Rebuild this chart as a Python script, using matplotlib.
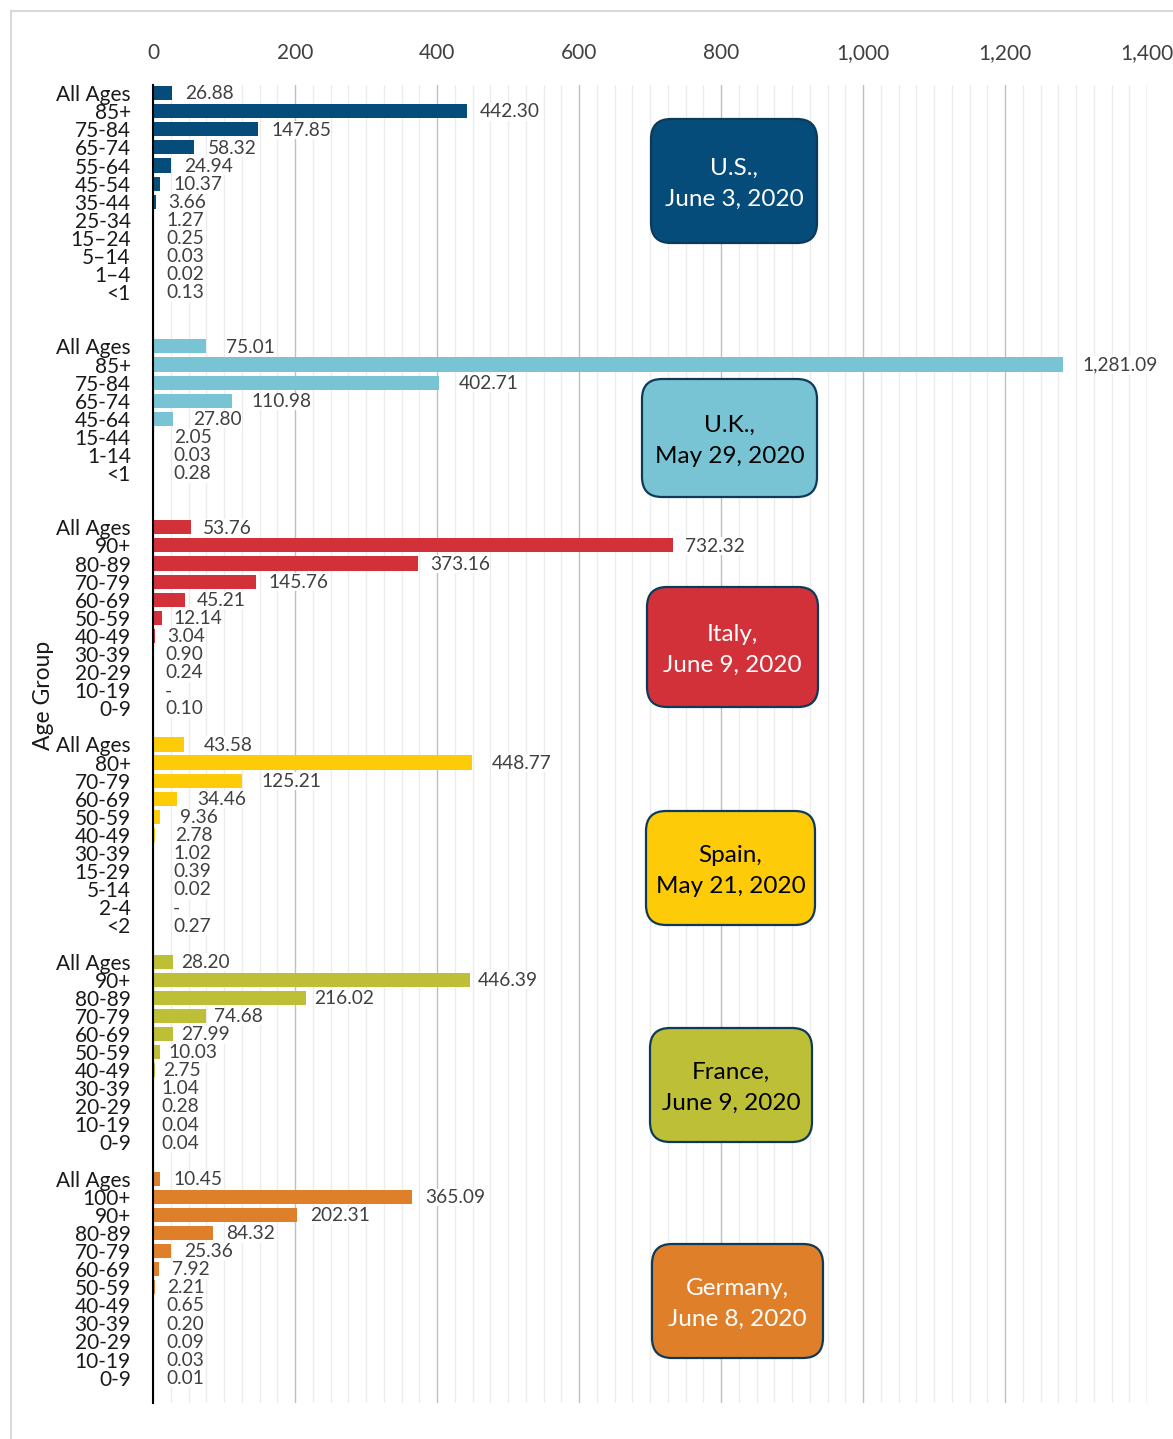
#!/usr/bin/env python3

import matplotlib
matplotlib.use("Agg")
from matplotlib import pyplot as plt
from matplotlib.patches import FancyBboxPatch
from matplotlib.lines import Line2D
from matplotlib.transforms import IdentityTransform
from matplotlib.ticker import MultipleLocator, FuncFormatter

matplotlib.rcParams['font.family'] = ['Lato', 'DejaVu Sans']

# Deaths per 100,000 by age group
us_groups = ["All Ages", "85+", "75-84", "65-74", "55-64", "45-54", "35-44", "25-34", "15–24", "5–14", "1–4", "<1"]
us_vals = [26.88, 442.30, 147.85, 58.32, 24.94, 10.37, 3.66, 1.27, 0.25, 0.03, 0.02, 0.13]

uk_groups = ["All Ages", "85+", "75-84", "65-74", "45-64", "15-44", "1-14", "<1"]
uk_vals = [75.01, 1281.09, 402.71, 110.98, 27.80, 2.05, 0.03, 0.28]

it_groups = ["All Ages", "90+", "80-89", "70-79", "60-69", "50-59", "40-49", "30-39", "20-29", "10-19", "0-9"]
it_vals = [53.76, 732.32, 373.16, 145.76, 45.21, 12.14, 3.04, 0.90, 0.24, 0.0, 0.10]

es_groups = ["All Ages", "80+", "70-79", "60-69", "50-59", "40-49", "30-39", "15-29", "5-14", "2-4", "<2"]
es_vals = [43.58, 448.77, 125.21, 34.46, 9.36, 2.78, 1.02, 0.39, 0.02, 0.0, 0.27]

fr_groups = ["All Ages", "90+", "80-89", "70-79", "60-69", "50-59", "40-49", "30-39", "20-29", "10-19", "0-9"]
fr_vals = [28.20, 446.39, 216.02, 74.68, 27.99, 10.03, 2.75, 1.04, 0.28, 0.04, 0.04]

de_groups = ["All Ages", "100+", "90+", "80-89", "70-79", "60-69", "50-59", "40-49", "30-39", "20-29", "10-19", "0-9"]
de_vals = [10.45, 365.09, 202.31, 84.32, 25.36, 7.92, 2.21, 0.65, 0.20, 0.09, 0.03, 0.01]

countries = ["U.S.,\nJune 3, 2020", "U.K.,\nMay 29, 2020", "Italy,\nJune 9, 2020",
             "Spain,\nMay 21, 2020", "France,\nJune 9, 2020", "Germany,\nJune 8, 2020"]

W, H = 1173, 1439

# styling per panel: bar colour, box text colour, label offset (px), blank rows after, box (x0, y0, x1, y1 px)
styles = [
    ("#054C7A", "white", 13, 2, (651, 119, 817, 243)),
    ("#78C4D4", "black", 20, 2, (642, 379, 817, 497)),
    ("#D3313A", "white", 12, 1, (647, 587, 818, 707)),
    ("#FDCB08", "black", 20, 1, (646, 811, 815, 925)),
    ("#BDBF36", "black", 8, 1, (650, 1028, 812, 1142)),
    ("#E07F29", "white", 13, 0, (652, 1244, 823, 1358)),
]
panels = [(us_groups, us_vals), (uk_groups, uk_vals), (it_groups, it_vals),
          (es_groups, es_vals), (fr_groups, fr_vals), (de_groups, de_vals)]

fig = plt.figure(figsize=(W / 100, H / 100), dpi=100)
ax = fig.add_axes([153 / W, 1 - 1403 / H, (1147 - 153) / W, (1403 - 85) / H])

ticks = []
ticklabels = []
row = 0
for (groups, vals), (color, tcolor, off, gap, box) in zip(panels, styles):
    ys = list(range(row, row + len(groups)))
    ax.barh(ys, vals, height=0.78, color=color, zorder=3)
    for y, v in zip(ys, vals):
        txt = "-" if v == 0 else "{:,.2f}".format(v)
        ax.annotate(txt, (v, y), xytext=(off * 0.72, -0.5), textcoords="offset points",
                    ha="left", va="center", fontsize=13.8, color="#404040", zorder=4,
                    bbox=dict(fc="white", ec="none", pad=0.3))
    ticks += ys
    ticklabels += groups
    row += len(groups) + gap

ax.set_xlim(0, 1400)
ax.set_ylim(row - 1 + 1.4, -0.45)
ax.set_yticks(ticks)
ax.set_yticklabels(ticklabels, fontsize=15, color="#1a1a1a")
ax.tick_params(axis="y", length=0, pad=16)

ax.xaxis.tick_top()
ax.xaxis.set_major_locator(MultipleLocator(200))
ax.xaxis.set_minor_locator(MultipleLocator(25))
ax.xaxis.set_major_formatter(FuncFormatter(lambda x, p: "{:,.0f}".format(x)))
ax.tick_params(axis="x", which="both", length=0, labelsize=15, labelcolor="#404040", pad=16)
ax.grid(axis="x", which="major", color="#bfbfbf", lw=1.0, zorder=0)
ax.grid(axis="x", which="minor", color="#ececec", lw=1.0, zorder=0)
ax.set_axisbelow(True)

for s in ["top", "right", "bottom"]:
    ax.spines[s].set_visible(False)
ax.spines["left"].set_color("black")
ax.spines["left"].set_linewidth(1.5)
ax.spines["left"].set_zorder(5)

fig.text(43 / W, 1 - 695 / H, "Age Group", rotation=90, ha="center", va="center",
         fontsize=16.5, color="#1a1a1a")

# country boxes
for label, (color, tcolor, off, gap, box) in zip(countries, styles):
    x0, y0, x1, y1 = box
    patch = FancyBboxPatch((x0, H - y1), x1 - x0, y1 - y0,
                           boxstyle="round,pad=0,rounding_size=20",
                           fc=color, ec="#0E3A5A", lw=1.6,
                           transform=IdentityTransform(), zorder=10)
    fig.add_artist(patch)
    fig.text((x0 + x1) / 2 / W, 1 - ((y0 + y1) / 2 + 3) / H, label, ha="center", va="center",
             fontsize=17.5, color=tcolor, linespacing=1.6, zorder=11)

# outer chart frame
fig.add_artist(Line2D([11 / W, 11 / W], [0, 1 - 11 / H], transform=fig.transFigure, color="#d9d9d9", lw=1.5))
fig.add_artist(Line2D([11 / W, 1], [1 - 11 / H, 1 - 11 / H], transform=fig.transFigure, color="#d9d9d9", lw=1.5))

plt.savefig("out.png", dpi=100)
